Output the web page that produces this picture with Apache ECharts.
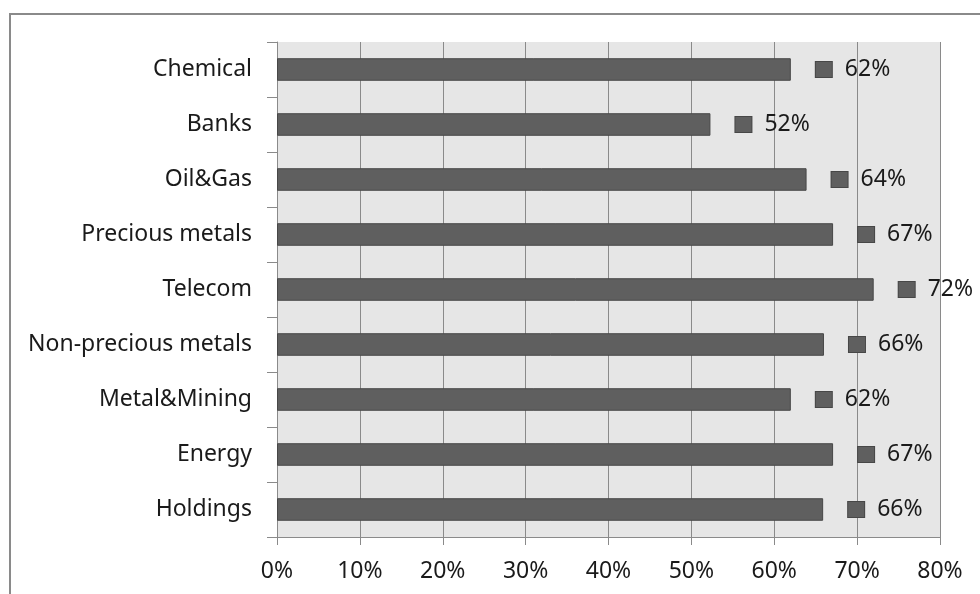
<!DOCTYPE html>
<html>
<head>
<meta charset="utf-8">
<script src="https://cdn.jsdelivr.net/npm/echarts@6/dist/echarts.min.js"></script>
<style>
html,body{margin:0;padding:0;background:#fff;}
#c{width:980px;height:594px;}
</style>
</head>
<body>
<div id="c"></div>
<script>
var categories = ['Chemical','Banks','Oil&Gas','Precious metals','Telecom','Non-precious metals','Metal&Mining','Energy','Holdings'];
var values = [62.0, 52.3, 63.9, 67.1, 72.0, 66.0, 62.0, 67.1, 65.9];
var xTicks = [0,10,20,30,40,50,60,70,80];

var FONT = 'Noto Sans';
var chart = echarts.init(document.getElementById('c'));
chart.setOption({
  animation: false,
  backgroundColor: '#fff',
  graphic: [{
    type: 'rect', silent: true, z: -1,
    shape: {x: 10, y: 14, width: 1200, height: 1200},
    style: {fill: 'none', stroke: '#8a8a8a', lineWidth: 2}
  }],
  grid: {left: 277, top: 42, right: 40, bottom: 57, show: true, backgroundColor: '#e6e6e6', borderWidth: 0},
  xAxis: {
    type: 'value', min: xTicks[0], max: xTicks[xTicks.length-1], interval: 10,
    axisLine: {show: true, lineStyle: {color: '#8a8a8a', width: 1}},
    axisTick: {show: true, length: 8, lineStyle: {color: '#8a8a8a'}},
    splitLine: {show: true, lineStyle: {color: '#8a8a8a', width: 1}},
    axisLabel: {formatter: '{value}%', color: '#1a1a1a', fontFamily: FONT, fontSize: 23, margin: 23}
  },
  yAxis: {
    type: 'category', data: categories, inverse: true,
    axisLine: {show: true, lineStyle: {color: '#8a8a8a', width: 1}},
    axisTick: {show: true, length: 10, lineStyle: {color: '#8a8a8a'}},
    splitLine: {show: false},
    axisLabel: {color: '#1a1a1a', fontFamily: FONT, fontSize: 23, margin: 25}
  },
  series: [{
    type: 'bar', data: values, barWidth: '41%',
    itemStyle: {color: '#5f5f5f', borderColor: '#474747', borderWidth: 1},
    label: {
      show: true, position: 'right', distance: 25,
      formatter: function(p){ return '{sq|}{v|' + Math.round(p.value) + '%}'; },
      rich: {
        sq: {width: 16, height: 15, backgroundColor: '#5f5f5f', borderColor: '#474747', borderWidth: 1},
        v: {fontFamily: FONT, fontSize: 23, color: '#1a1a1a', padding: [0,0,0,13]}
      }
    }
  }]
});
</script>
</body>
</html>
